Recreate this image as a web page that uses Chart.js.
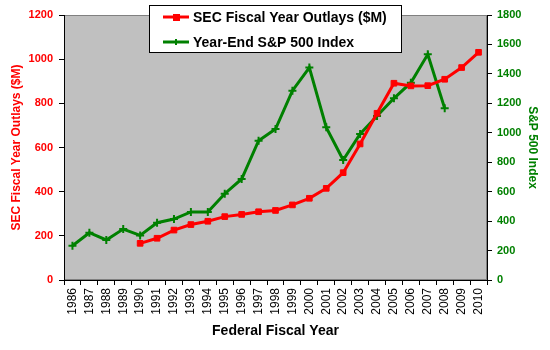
<!DOCTYPE html>
<html>
<head>
<meta charset="utf-8">
<script src="https://cdn.jsdelivr.net/npm/chart.js@4"></script>
<style>
  body { margin: 0; background: #fff; }
  #wrap { width: 550px; height: 350px; }
</style>
</head>
<body>
<div id="wrap"><canvas id="chart" width="550" height="350"></canvas></div>
<script>
// values
const years = ['1986', '1987', '1988', '1989', '1990', '1991', '1992', '1993', '1994',
  '1995', '1996', '1997', '1998', '1999', '2000', '2001', '2002', '2003', '2004',
  '2005', '2006', '2007', '2008', '2009', '2010'];
const secOutlays = [null, null, null, null, 166, 189, 226, 251, 266, 287, 297, 309, 315,
  340, 370, 415, 486, 616, 755, 891, 879, 880, 909, 962, 1031];
const spIndex = [233, 321, 272, 346, 303, 389, 414, 462, 462, 586, 686, 946, 1025,
  1286, 1443, 1037, 815, 992, 1114, 1234, 1340, 1533, 1166, null, null];
const leftTicks = [0, 200, 400, 600, 800, 1000, 1200];
const rightTicks = [0, 200, 400, 600, 800, 1000, 1200, 1400, 1600, 1800];

const RED = '#FF0000';
const GREEN = '#008000';
const FONT = '"Liberation Sans", Arial, sans-serif';

// gray plot area behind the lines
const plotBackground = {
  id: 'plotBackground',
  beforeDraw(chart) {
    const { ctx, chartArea: a } = chart;
    ctx.save();
    ctx.fillStyle = '#C0C0C0';
    ctx.fillRect(a.left, a.top, a.right - a.left, a.bottom - a.top);
    ctx.strokeStyle = '#808080';
    ctx.lineWidth = 1;
    ctx.strokeRect(a.left + 0.5, a.top + 0.5, a.right - a.left - 1, a.bottom - a.top - 1);
    ctx.restore();
  }
};

// boxed legend drawn over the plot, Excel style
const boxLegend = {
  id: 'boxLegend',
  afterDraw(chart) {
    const { ctx } = chart;
    const box = { x: 149, y: 5, w: 253, h: 48 };
    ctx.save();
    ctx.fillStyle = '#fff';
    ctx.fillRect(box.x, box.y, box.w, box.h);
    ctx.strokeStyle = '#000';
    ctx.lineWidth = 1;
    ctx.strokeRect(box.x + 0.5, box.y + 0.5, box.w - 1, box.h - 1);

    ctx.font = 'bold 14px ' + FONT;
    ctx.textBaseline = 'middle';
    chart.data.datasets.forEach((ds, i) => {
      const y = 17 + i * 25;
      ctx.strokeStyle = ds.borderColor;
      ctx.lineWidth = 3;
      ctx.beginPath();
      ctx.moveTo(163, y);
      ctx.lineTo(189, y);
      ctx.stroke();
      ctx.fillStyle = ds.borderColor;
      if (i === 0) {
        ctx.fillRect(173, y - 3, 7, 7);
      } else {
        ctx.lineWidth = 2;
        ctx.beginPath();
        ctx.moveTo(176, y - 3); ctx.lineTo(176, y + 3);
        ctx.stroke();
      }
      ctx.fillStyle = '#000';
      ctx.fillText(ds.label, 193, y + 1);
    });
    ctx.restore();
  }
};

new Chart(document.getElementById('chart'), {
  type: 'line',
  data: {
    labels: years,
    datasets: [
      {
        label: 'SEC Fiscal Year Outlays ($M)',
        data: secOutlays,
        yAxisID: 'y',
        borderColor: RED,
        backgroundColor: RED,
        borderWidth: 3,
        pointStyle: 'rect',
        pointRadius: 4,
        pointBorderWidth: 1,
        tension: 0
      },
      {
        label: 'Year-End S&P 500 Index',
        data: spIndex,
        yAxisID: 'y1',
        borderColor: GREEN,
        backgroundColor: GREEN,
        borderWidth: 3,
        pointStyle: 'cross',
        pointRadius: 4,
        pointBorderWidth: 2,
        tension: 0
      }
    ]
  },
  options: {
    responsive: false,
    animation: false,
    layout: { padding: { top: 15, left: 0, right: 0, bottom: 0 } },
    plugins: {
      legend: { display: false },
      tooltip: { enabled: false }
    },
    scales: {
      x: {
        offset: true,
        afterFit: s => { s.height = 70; },
        grid: {
          offset: true,
          drawOnChartArea: false,
          tickLength: 5,
          tickColor: '#000'
        },
        border: { color: '#000', width: 1 },
        ticks: {
          color: '#000',
          font: { family: FONT, size: 12 },
          minRotation: 90,
          maxRotation: 90,
          autoSkip: false,
          padding: 3
        },
        title: {
          display: true,
          text: 'Federal Fiscal Year',
          color: '#000',
          font: { family: FONT, size: 14, weight: 'bold' },
          padding: { top: 0, bottom: 10 }
        }
      },
      y: {
        position: 'left',
        min: 0,
        max: 1200,
        afterFit: s => { s.width = 64; },
        afterBuildTicks: s => { s.ticks = leftTicks.map(v => ({ value: v })); },
        grid: { drawOnChartArea: false, tickLength: 5, tickColor: '#000' },
        border: { color: '#000', width: 1 },
        ticks: {
          color: RED,
          font: { family: FONT, size: 11, weight: 'bold' },
          padding: 6,
          callback: v => String(v)
        },
        title: {
          display: true,
          text: 'SEC Fiscal Year Outlays ($M)',
          color: RED,
          font: { family: FONT, size: 12, weight: 'bold' },
          padding: { top: 9, bottom: 0 }
        }
      },
      y1: {
        position: 'right',
        min: 0,
        max: 1800,
        afterFit: s => { s.width = 63; },
        afterBuildTicks: s => { s.ticks = rightTicks.map(v => ({ value: v })); },
        grid: { drawOnChartArea: false, tickLength: 5, tickColor: '#000' },
        border: { color: '#000', width: 1 },
        ticks: {
          color: GREEN,
          font: { family: FONT, size: 11, weight: 'bold' },
          padding: 5,
          callback: v => String(v)
        },
        title: {
          display: true,
          text: 'S&P 500 Index',
          color: GREEN,
          font: { family: FONT, size: 12, weight: 'bold' },
          padding: { top: 10, bottom: 0 }
        }
      }
    }
  },
  plugins: [plotBackground, boxLegend]
});
</script>
</body>
</html>
